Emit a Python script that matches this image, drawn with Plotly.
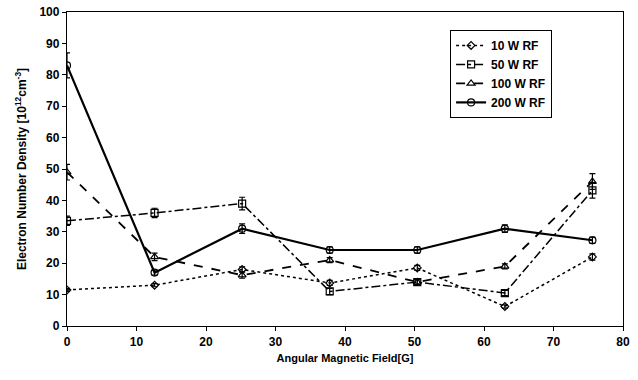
import plotly.graph_objects as go

field = [0, 12.6, 25.2, 37.8, 50.4, 63, 75.6]
series_names = ["10 W RF", "50 W RF", "100 W RF", "200 W RF"]
rf10 = [11.5, 13, 18, 13.7, 18.5, 6.2, 22]
rf50 = [33.5, 36, 39, 11, 14, 10.5, 43.2]
rf100 = [49, 22, 16.2, 21, 14, 19, 46]
rf200 = [83, 17, 31, 24.2, 24.2, 31, 27.3]
err10 = [0.5, 0.5, 0.8, 0.8, 0.8, 0.5, 1]
err50 = [1.5, 1.5, 2, 1, 0.8, 0.8, 2.5]
err100 = [2.5, 1.2, 1, 0.8, 0.8, 0.8, 2.5]
err200 = [4, 0.8, 1.5, 1, 1, 1.2, 1]

styles = [
    (rf10, err10, "dot", "diamond-open", 1.5, 6),
    (rf50, err50, "dashdot", "square-open", 1.5, 7),
    (rf100, err100, "dash", "triangle-up-open", 1.8, 7),
    (rf200, err200, "solid", "circle-open", 2.2, 7),
]

fig = go.Figure()
for name, (ys, es, dash, sym, w, ms) in zip(series_names, styles):
    fig.add_trace(go.Scatter(
        x=field, y=ys, name=name, mode="lines+markers",
        line=dict(color="black", width=w, dash=dash),
        marker=dict(symbol=sym, size=ms, color="black", line=dict(width=1.2, color="black")),
        error_y=dict(type="data", array=es, visible=True, color="black", thickness=1.2, width=3),
    ))

font = "Liberation Sans, Arial, sans-serif"
fig.update_layout(
    width=638, height=380,
    margin=dict(l=67, r=15, t=12, b=54, autoexpand=False),
    paper_bgcolor="white", plot_bgcolor="white",
    font=dict(family=font, size=12, color="black"),
    legend=dict(x=0.689, y=0.943, xanchor="left", yanchor="top",
                bordercolor="black", borderwidth=1, bgcolor="white",
                font=dict(size=12, family=font, weight="bold"),
                tracegroupgap=0, itemwidth=30),
    showlegend=True,
)
fig.update_xaxes(
    range=[0, 80], dtick=10, tick0=0, showgrid=False, zeroline=False,
    showline=True, linecolor="black", linewidth=1.3, mirror=True,
    ticks="outside", ticklen=4, tickcolor="black", automargin=False,
    tickfont=dict(size=12, family=font, weight="bold"),
    title=dict(text="<b>Angular Magnetic Field[G]</b>", font=dict(size=11, family=font), standoff=6),
)
fig.update_yaxes(
    range=[0, 100], dtick=10, tick0=0, showgrid=False, zeroline=False,
    showline=True, linecolor="black", linewidth=1.3, mirror=True,
    ticks="outside", ticklen=4, tickcolor="black", automargin=False,
    tickfont=dict(size=12, family=font, weight="bold"),
    title=dict(text="<b>Electron Number Density [10<sup>12</sup>cm<sup>-3</sup>]</b>", font=dict(size=12, family=font), standoff=10),
)
fig.write_html("out.html", config={"displayModeBar": False},
               post_script="document.body.style.margin='0';")
